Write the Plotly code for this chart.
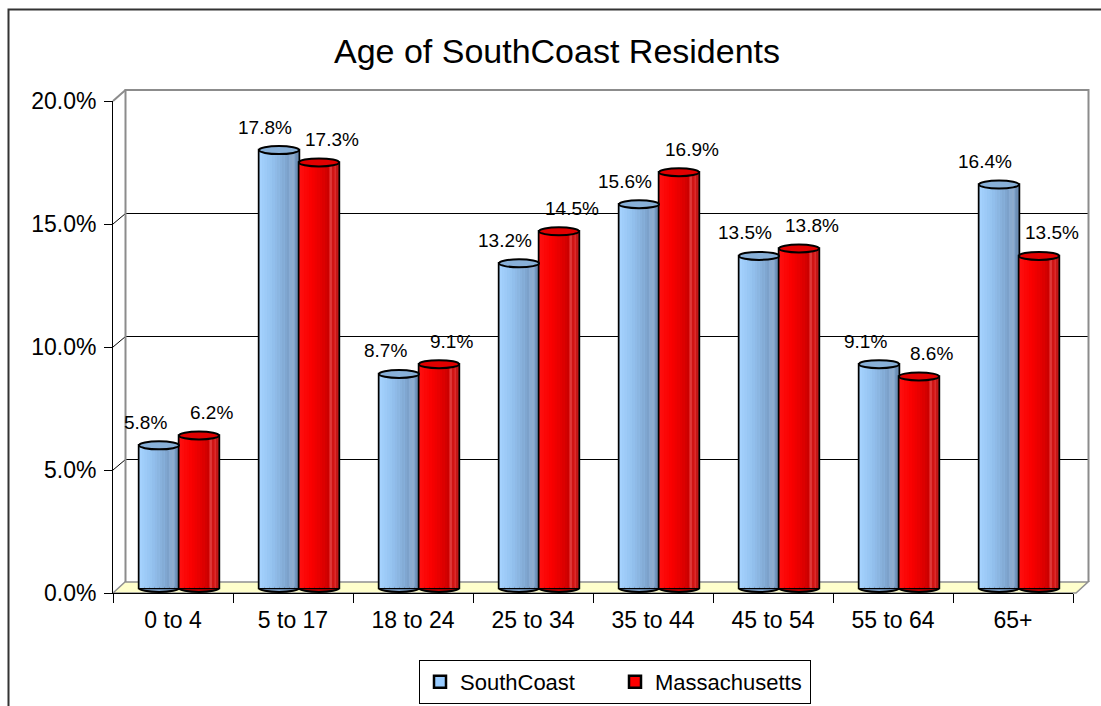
import plotly.graph_objects as go

# ---------------- data ----------------
categories = ["0 to 4", "5 to 17", "18 to 24", "25 to 34", "35 to 44", "45 to 54", "55 to 64", "65+"]
southcoast = [5.8, 17.8, 8.7, 13.2, 15.6, 13.5, 9.1, 16.4]
massachusetts = [6.2, 17.3, 9.1, 14.5, 16.9, 13.8, 8.6, 13.5]
y_ticks = [0, 5, 10, 15, 20]
y_tick_labels = ["0.0%", "5.0%", "10.0%", "15.0%", "20.0%"]
series_names = ["SouthCoast", "Massachusetts"]

# ---------------- layout geometry (screen pixels) ----------------
OFF = 0                   # page body margin removed by post_script
W, H = 1101, 706
PX_L, PX_R, PX_T, PX_B = 113 - OFF, 1073 - OFF, 101 - OFF, 593 - OFF
Y_MAX = 20.0
DX, DY = 12, 11           # 3-D depth of the box
K = (PX_B - PX_T) / Y_MAX # px per percentage point
BASE = 5 / K              # bars sit mid-depth
RY = 4 / K                # cylinder cap half-height
FONT = "Liberation Sans, Arial, sans-serif"


def pxx(p):
    return (p - PX_L) / (PX_R - PX_L)


def pxy(p):
    return (PX_B - p) / (PX_B - PX_T)


def hex2rgb(h):
    h = h.lstrip("#")
    return tuple(int(h[i:i + 2], 16) for i in (0, 2, 4))


def grad(stops, t):
    for (t0, c0), (t1, c1) in zip(stops, stops[1:]):
        if t0 <= t <= t1:
            a = (t - t0) / (t1 - t0) if t1 > t0 else 0
            r0, g0, b0 = hex2rgb(c0)
            r1, g1, b1 = hex2rgb(c1)
            return "rgb(%d,%d,%d)" % (r0 + (r1 - r0) * a, g0 + (g1 - g0) * a, b0 + (b1 - b0) * a)
    return stops[-1][1]


styles = [
    dict(values=southcoast, offset=-0.283, base="#99CCFF", cap="#88B0D8", bottom="#7FA3CB", shift=-14,
         stops=[(0, "#A6D3FF"), (0.3, "#95C3F0"), (0.55, "#87B0DB"), (0.75, "#7A9FC8"),
                (0.82, "#9DB9D9"), (0.88, "#7798BF"), (1.0, "#6A8BB2")]),
    dict(values=massachusetts, offset=0.05, base="#FF0000", cap="#E00000", bottom="#C00000", shift=13,
         stops=[(0, "#FF1010"), (0.3, "#FA0000"), (0.55, "#E20000"), (0.72, "#CC0000"),
                (0.8, "#E44A4A"), (0.86, "#C80000"), (0.92, "#DD3A3A"), (1.0, "#B00000")]),
]
BW = 0.333
N = 16

fig = go.Figure()
shapes = []
annotations = []

for name, st in zip(series_names, styles):
    vals = st["values"]
    # base bar (outline + legend entry)
    fig.add_trace(go.Bar(
        x=categories, y=vals, base=BASE, name=name, offset=st["offset"], width=BW,
        marker=dict(color=st["base"], line=dict(color="black", width=2.5)),
        hoverinfo="skip",
    ))
    # gradient slices for the cylinder look
    for j in range(N):
        t = (j + 0.5) / N
        fig.add_trace(go.Bar(
            x=categories, y=vals, base=BASE, offset=st["offset"] + BW * j / N + 0.004,
            width=BW / N * 1.08 if j < N - 1 else BW / N - 0.008,
            marker=dict(color=grad(st["stops"], t), line=dict(width=0)),
            showlegend=False, hoverinfo="skip",
        ))
    for i, v in enumerate(vals):
        x0 = i + st["offset"]
        # bottom rounded edge
        shapes.append(dict(type="circle", xref="x", yref="y", x0=x0, x1=x0 + BW,
                           y0=BASE - RY, y1=BASE + RY, fillcolor=st["bottom"],
                           line=dict(color="black", width=2), layer="below"))
        # top cap
        shapes.append(dict(type="circle", xref="x", yref="y", x0=x0, x1=x0 + BW,
                           y0=v + BASE - RY, y1=v + BASE + RY, fillcolor=st["cap"],
                           line=dict(color="black", width=2), layer="above"))
        annotations.append(dict(x=x0 + BW / 2, y=v + BASE, xref="x", yref="y",
                                text="%.1f%%" % v, showarrow=False, yanchor="middle",
                                xshift=st["shift"], yshift=23,
                                font=dict(family=FONT, size=19, color="black")))

# ---- 3-D box: floor, walls, gridlines ----
bx0, bx1 = pxx(PX_L + DX + 0.5), pxx(PX_R + DX + 3.5)
floor_path = "M %f %f L %f %f L %f %f L %f %f Z" % (
    pxx(PX_L), pxy(PX_B), pxx(PX_L + DX), pxy(PX_B - DY),
    pxx(PX_R + DX + 3), pxy(PX_B - DY), pxx(PX_R + 3), pxy(PX_B))
shapes.append(dict(type="path", xref="paper", yref="paper", path=floor_path,
                   fillcolor="#FFFFCC", line=dict(color="#909090", width=1.5), layer="below"))
for v in y_ticks[1:-1]:
    fy = round(PX_B - v * K)
    gy = pxy(fy - DY + 0.5)
    shapes.append(dict(type="line", xref="paper", yref="paper", x0=bx0, x1=bx1,
                       y0=gy, y1=gy, line=dict(color="black", width=1), layer="below"))
    shapes.append(dict(type="line", xref="paper", yref="paper", x0=pxx(PX_L), x1=bx0,
                       y0=pxy(fy), y1=gy, line=dict(color="black", width=1), layer="below"))
top_y = pxy(PX_T - DY)
# back-wall frame (left, top, right) and top-left diagonal
shapes.append(dict(type="path", xref="paper", yref="paper",
                   path="M %f %f L %f %f L %f %f L %f %f" % (bx0, pxy(PX_B - DY), bx0, top_y, bx1, top_y, bx1, pxy(PX_B - DY)),
                   line=dict(color="#8C8C8C", width=2), layer="below"))
shapes.append(dict(type="line", xref="paper", yref="paper", x0=pxx(PX_L), x1=bx0,
                   y0=1, y1=top_y, line=dict(color="#8C8C8C", width=2), layer="below"))
# outer chart border (left and top edges inside the picture)
shapes.append(dict(type="path", xref="paper", yref="paper",
                   path="M %f %f L %f %f L %f %f" % (pxx(8.5), pxy(H + 20), pxx(8.5), pxy(9.5), pxx(W + 20), pxy(9.5)),
                   line=dict(color="#333333", width=2), layer="below"))

fig.update_layout(
    width=W, height=H,
    margin=dict(l=PX_L, r=W - PX_R, t=PX_T, b=H - PX_B, autoexpand=False),
    paper_bgcolor="white", plot_bgcolor="rgba(0,0,0,0)",
    barmode="overlay",
    title=dict(text="Age of SouthCoast Residents", x=pxx(557 - OFF), xref="paper", xanchor="center",
               y=1 - (51 - OFF) / H, yref="container", yanchor="middle",
               font=dict(family=FONT, size=34, color="black")),
    xaxis=dict(type="category", categoryorder="array", categoryarray=categories,
               range=[-0.5, len(categories) - 0.5],
               tickson="boundaries", ticks="outside", ticklen=9, tickcolor="black",
               showline=True, linecolor="black", linewidth=1, showgrid=False, zeroline=False,
               ticklabelstandoff=6,
               tickfont=dict(family=FONT, size=23, color="black"), fixedrange=True),
    yaxis=dict(range=[0, Y_MAX], tickvals=y_ticks, ticktext=y_tick_labels,
               ticks="outside", ticklen=8, tickcolor="black", showline=True, linecolor="black",
               linewidth=1, showgrid=False, zeroline=False, ticklabelstandoff=3,
               tickfont=dict(family=FONT, size=23, color="black"), fixedrange=True),
    legend=dict(orientation="h", x=pxx(615 - OFF), xanchor="center", y=pxy(660 - OFF), yanchor="top",
                bordercolor="black", borderwidth=1, bgcolor="white", entrywidth=150,
                font=dict(family=FONT, size=22, color="black"), itemclick=False),
    shapes=shapes, annotations=annotations,
)

fig.write_html("out.html", config={"displayModeBar": False},
               post_script="document.body.style.margin='0';document.documentElement.style.overflow='hidden';")
